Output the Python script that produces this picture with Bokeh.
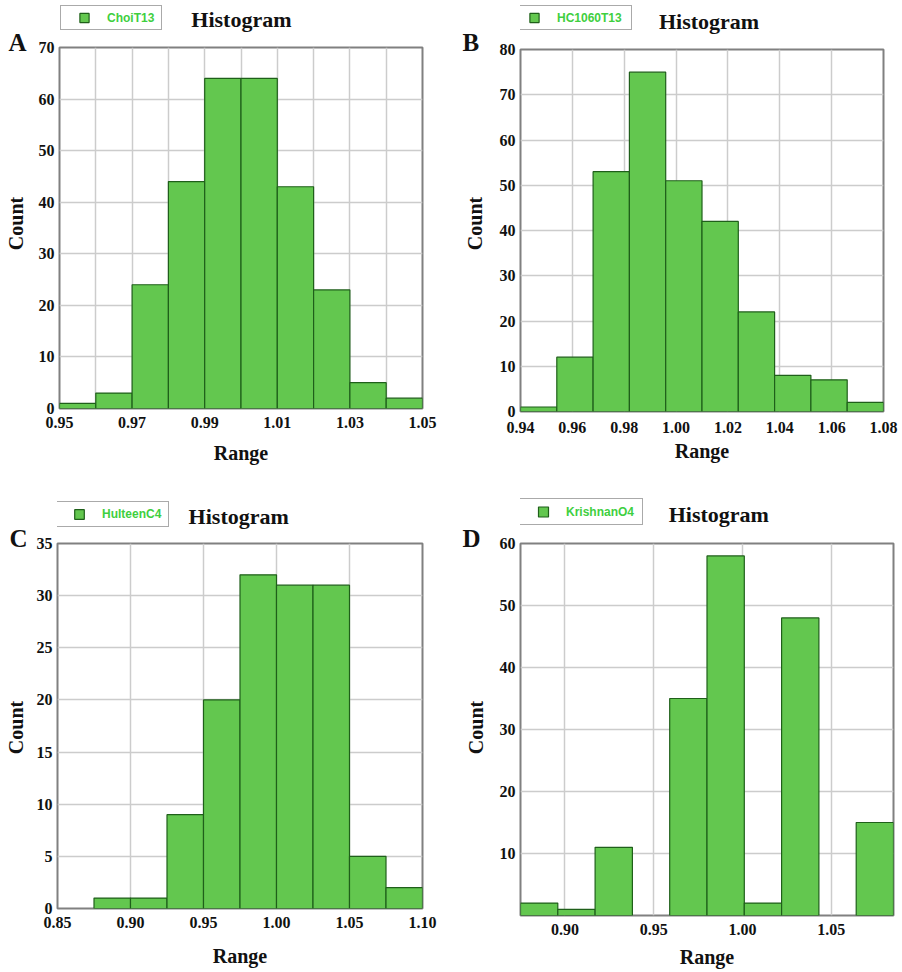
import math
from bokeh.plotting import figure
from bokeh.layouts import column, row
from bokeh.models import (Range1d, FixedTicker, Label, Legend, LegendItem,
                          NumeralTickFormatter, ColumnDataSource)
from bokeh.embed import file_html
from bokeh.resources import INLINE

# ---------------- data ----------------
names = ["ChoiT13", "HC1060T13", "HulteenC4", "KrishnanO4"]
letters = ["A", "B", "C", "D"]
title_text = "Histogram"
x_label = "Range"
y_label = "Count"

edges_A = [0.95, 0.96, 0.97, 0.98, 0.99, 1.00, 1.01, 1.02, 1.03, 1.04, 1.05]
counts_A = [1, 3, 24, 44, 64, 64, 43, 23, 5, 2]

edges_B = [0.94, 0.954, 0.968, 0.982, 0.996, 1.010, 1.024, 1.038, 1.052, 1.066, 1.080]
counts_B = [1, 12, 53, 75, 51, 42, 22, 8, 7, 2]

edges_C = [0.85, 0.875, 0.90, 0.925, 0.95, 0.975, 1.00, 1.025, 1.05, 1.075, 1.10]
counts_C = [0, 1, 1, 9, 20, 32, 31, 31, 5, 2]

edges_D = [0.875, 0.896, 0.917, 0.938, 0.959, 0.980, 1.001, 1.022, 1.043, 1.064, 1.085]
counts_D = [2, 1, 11, 0, 35, 58, 2, 48, 0, 15]

xticks_A = [0.95, 0.97, 0.99, 1.01, 1.03, 1.05]
xgrid_A = [0.96, 0.97, 0.98, 0.99, 1.00, 1.01, 1.02, 1.03, 1.04]
yticks_A = [0, 10, 20, 30, 40, 50, 60, 70]

xticks_B = [0.94, 0.96, 0.98, 1.00, 1.02, 1.04, 1.06, 1.08]
yticks_B = [0, 10, 20, 30, 40, 50, 60, 70, 80]

xticks_C = [0.85, 0.90, 0.95, 1.00, 1.05, 1.10]
yticks_C = [0, 5, 10, 15, 20, 25, 30, 35]

xticks_D = [0.90, 0.95, 1.00, 1.05]
yticks_D = [10, 20, 30, 40, 50, 60]

# ---------------- style ----------------
FILL = "#63c74f"
EDGE = "#1f5f1a"
GRID = "#cccccc"
TXT = "#111111"
SERIF = "Liberation Serif"
NAN = float("nan")


def blank_fig(w, h):
    f = figure(width=w, height=h, x_range=Range1d(0, w), y_range=Range1d(0, h),
               title=None, output_backend="svg", toolbar_location=None,
               x_axis_location=None, y_axis_location=None,
               min_border=0, min_border_left=0, min_border_right=0,
               min_border_top=0, min_border_bottom=0)
    f.outline_line_color = None
    f.xgrid.visible = False
    f.ygrid.visible = False
    f.background_fill_color = "white"
    f.border_fill_color = "white"
    return f


def make_header(w, h, name, leg_x, leg_y, leg_w, leg_h, tx, ty):
    f = blank_fig(w, h)
    # legend swatch renderer (no visible data point)
    src = ColumnDataSource(dict(x=[NAN], y=[NAN]))
    mk = f.scatter(x="x", y="y", source=src, marker="square", size=10,
                   fill_color=FILL, line_color=EDGE, line_width=1.2)
    leg = Legend(items=[LegendItem(label=name, renderers=[mk])],
                 location=(leg_x, leg_y), padding=0, margin=0, spacing=0,
                 glyph_width=46, glyph_height=leg_h,
                 label_width=leg_w - 46, label_height=leg_h, label_standoff=0,
                 label_text_font="Liberation Sans",
                 label_text_font_style="bold",
                 label_text_font_size="12px", label_text_color="#3fcf3f",
                 border_line_color="#555555", border_line_width=1.5,
                 background_fill_color="white", background_fill_alpha=1.0)
    f.add_layout(leg)
    f.add_layout(Label(x=tx, y=ty, text=title_text, text_font=SERIF,
                       text_font_style="bold", text_font_size="22px",
                       text_align="center", text_baseline="alphabetic",
                       text_color=TXT))
    return f


def make_strip(w, h, letter, lx, ly, cx, cy):
    f = blank_fig(w, h)
    f.add_layout(Label(x=lx, y=ly, text=letter, text_font=SERIF,
                       text_font_style="bold", text_font_size="25px",
                       text_align="left", text_baseline="alphabetic",
                       text_color=TXT))
    f.add_layout(Label(x=cx, y=cy, text=y_label, text_font=SERIF,
                       text_font_style="bold", text_font_size="20px",
                       text_align="center", text_baseline="middle",
                       angle=math.pi / 2, text_color=TXT))
    return f


def make_main(edges, counts, xr, yr, xticks, xgrid, yticks,
              W, H, bl, br, bt, bb, xlab_standoff, xaxis_standoff):
    p = figure(width=W, height=H, x_range=Range1d(*xr), y_range=Range1d(*yr),
               title=None, output_backend="svg", toolbar_location=None,
               min_border_left=bl, min_border_right=br,
               min_border_top=bt, min_border_bottom=bb)
    p.background_fill_color = "white"
    p.border_fill_color = "white"
    p.outline_line_color = "#808080"
    p.outline_line_width = 2

    lefts = [edges[i] for i in range(len(counts)) if counts[i] > 0]
    rights = [edges[i + 1] for i in range(len(counts)) if counts[i] > 0]
    tops = [c for c in counts if c > 0]
    src = ColumnDataSource(dict(left=lefts, right=rights, top=tops,
                                bottom=[0] * len(tops)))
    p.quad(left="left", right="right", top="top", bottom="bottom", source=src,
           fill_color=FILL, line_color=EDGE, line_width=1.2)

    p.xaxis.ticker = FixedTicker(ticks=xticks)
    p.yaxis.ticker = FixedTicker(ticks=yticks)
    p.xaxis.formatter = NumeralTickFormatter(format="0.00")
    p.xgrid.ticker = FixedTicker(ticks=xgrid)
    p.ygrid.ticker = FixedTicker(ticks=yticks)
    for g in (p.xgrid, p.ygrid):
        g.grid_line_color = GRID
        g.grid_line_width = 1.5
    for ax in (p.xaxis, p.yaxis):
        ax.axis_line_color = None
        ax.major_tick_line_color = None
        ax.minor_tick_line_color = None
        ax.major_tick_out = 0
        ax.major_tick_in = 0
        ax.major_label_text_font = SERIF
        ax.major_label_text_font_style = "bold"
        ax.major_label_text_font_size = "16px"
        ax.major_label_text_color = TXT
        ax.axis_label_text_font = SERIF
        ax.axis_label_text_font_style = "bold"
        ax.axis_label_text_font_size = "20px"
        ax.axis_label_text_color = TXT
    p.xaxis.axis_label = x_label
    p.xaxis.major_label_standoff = xlab_standoff
    p.xaxis.axis_label_standoff = xaxis_standoff
    p.yaxis.major_label_standoff = 5
    return p


# ---- panel A (page x 0..451, y 0..475)
sA = make_strip(32, 475, letters[0], 8, 433, 15, 252)
hA = make_header(419, 38, names[0], 1, 8, 100, 23, 210, 19)
mA = make_main(edges_A, counts_A, (0.95, 1.05), (0, 70), xticks_A, xgrid_A,
               yticks_A, 419, 437, 27, 29, 9, 67, 8, 11)

# ---- panel B (page x 451..900, y 0..475)
sB = make_strip(37, 475, letters[1], 11, 433, 23.5, 252)
hB = make_header(412, 40, names[1], -10, 10, 120, 23, 214, 19)
mB = make_main(edges_B, counts_B, (0.94, 1.08), (0, 80), xticks_B, xticks_B,
               yticks_B, 412, 435, 32, 17, 9, 64, 10, 4)

# ---- panel C (page x 0..451, y 475..971)
sC = make_strip(32, 496, letters[2], 9, 433, 15.5, 244)
hC = make_header(419, 59, names[2], -2, 7, 112, 24, 208, 18)
mC = make_main(edges_C, counts_C, (0.85, 1.10), (0, 35), xticks_C, xticks_C,
               yticks_C, 419, 437, 25, 29, 9, 63, 8, 14)

# ---- panel D (page x 451..900, y 475..971)
sD = make_strip(37, 496, letters[3], 11, 433, 24.5, 244)
hD = make_header(412, 59, names[3], -1, 9, 122, 25, 219, 20)
mD = make_main(edges_D, counts_D, (0.875, 1.085), (0, 60), xticks_D, xticks_D,
               yticks_D, 412, 437, 32, 7, 9, 56, 8, 8)

layout = column(
    row(sA, column(hA, mA), sB, column(hB, mB)),
    row(sC, column(hC, mC), sD, column(hD, mD)),
)
open("out.html", "w").write(file_html(layout, INLINE))
